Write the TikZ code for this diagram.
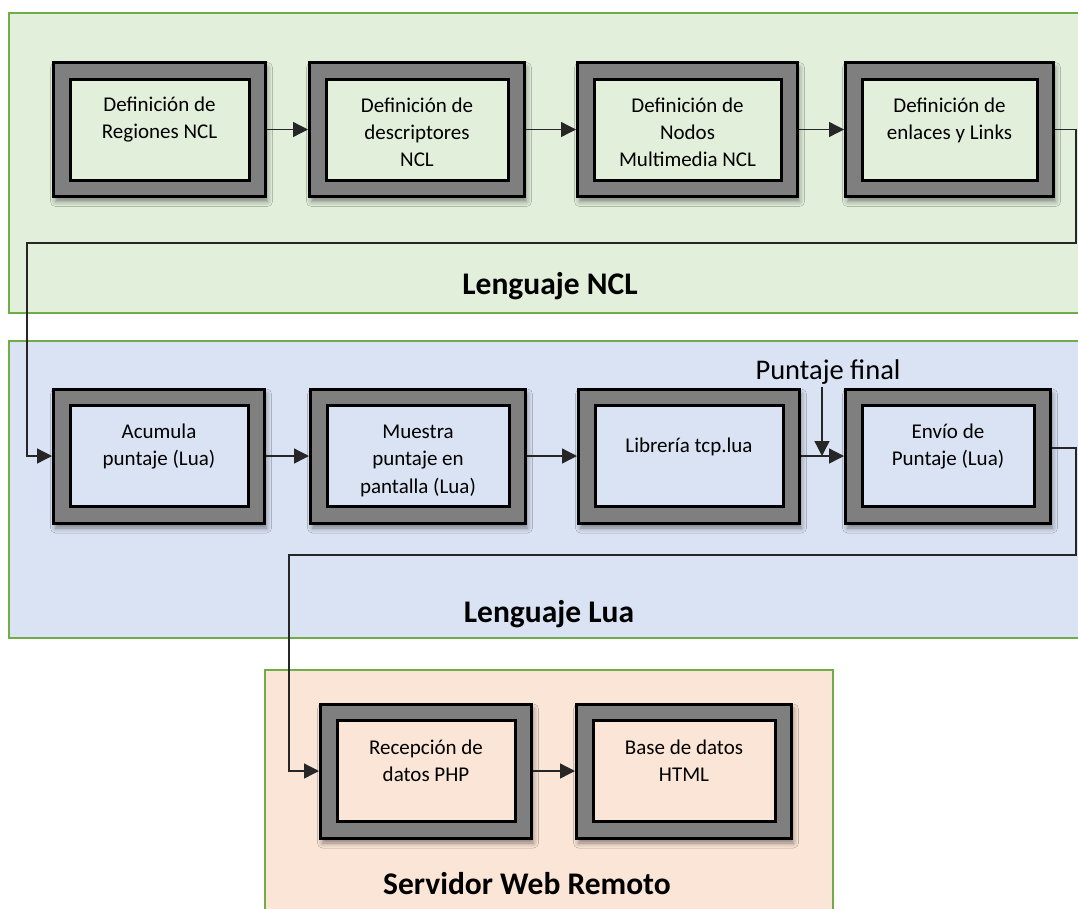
\documentclass[tikz,border=0pt]{standalone}
\usepackage{fontspec}
\setmainfont{Carlito}
\usetikzlibrary{arrows.meta,shadows.blur}
\definecolor{pG}{HTML}{E2EFDA}
\definecolor{pB}{HTML}{DAE3F3}
\definecolor{pO}{HTML}{FBE5D6}
\definecolor{pBorder}{HTML}{70AD47}
\definecolor{frameGray}{HTML}{7F7F7F}
\definecolor{connC}{HTML}{262626}
\newcommand{\ms}{\rule[-3.5pt]{0pt}{27pt}}
\newcommand{\bt}[1]{\parbox{190pt}{\centering #1}}
\tikzset{
  panel/.style={fill=#1, draw=pBorder, line width=2.5pt},
  blk/.style={rectangle, draw=black, line width=3pt, fill=frameGray,
    minimum height=134pt, inner sep=0pt,
    font=\fontsize{21}{27}\selectfont,
    blur shadow={shadow xshift=2pt, shadow yshift=-5pt, shadow blur radius=5pt, shadow opacity=45},
    path picture={\draw[line width=3pt, fill=#1]
      ([shift={(16.5pt,-16.5pt)}]path picture bounding box.north west) rectangle
      ([shift={(-16.5pt,16.5pt)}]path picture bounding box.south east);}},
  conn/.style={draw=connC, line width=1.3pt, -{Triangle[length=15pt,width=15pt]}},
  title/.style={font=\bfseries\fontsize{31.5}{38}\selectfont, inner sep=0pt},
}
\begin{document}
\begin{tikzpicture}[x=1pt,y=-1pt]
\useasboundingbox (0,0) rectangle (1078,908);
\clip (0,0) rectangle (1078,908);
\fill[white] (0,0) rectangle (1078,908);
% panels
\path[panel=pG] (9,13) rectangle (1100,313);
\path[panel=pB] (9,341) rectangle (1100,638);
\path[panel=pO] (265,670) rectangle (833,930);
% titles
\node[title] (tNCL) at (550,286) {Lenguaje NCL};
\node[title] (tLua) at (549,614) {Lenguaje Lua};
\node[title] (tWeb) at (527,884) {Servidor Web Remoto};
% row 1
\node[blk=pG, minimum width=212pt] (b11) at (159.5,129.5) {\bt{\ms Definición de\\\ms Regiones NCL\\\ms}};
\node[blk=pG, minimum width=215pt] (b12) at (417,129.5) {\bt{\ms Definición de\\\ms descriptores\\\ms NCL}};
\node[blk=pG, minimum width=220pt] (b13) at (687.5,129.5) {\bt{\ms Definición de\\\ms Nodos\\\ms Multimedia NCL}};
\node[blk=pG, minimum width=208pt] (b14) at (949.5,129.5) {\bt{\ms Definición de\\\ms enlaces y Links\\\ms}};
% row 2
\node[blk=pB, minimum width=211pt] (b21) at (159,456) {\bt{\ms Acumula\\\ms puntaje (Lua)\\\ms}};
\node[blk=pB, minimum width=215pt] (b22) at (418,456) {\bt{\ms Muestra\\\ms puntaje en\\\ms pantalla (Lua)}};
\node[blk=pB, minimum width=221pt] (b23) at (689,456) {\bt{\ms Librería tcp.lua\\\ms}};
\node[blk=pB, minimum width=205pt] (b24) at (948,456) {\bt{\ms Envío de\\\ms Puntaje (Lua)\\\ms}};
% row 3
\node[blk=pO, minimum width=211pt] (b31) at (426,771) {\bt{\ms Recepción de\\\ms datos PHP\\\ms}};
\node[blk=pO, minimum width=215pt] (b32) at (684,771) {\bt{\ms Base de datos\\\ms HTML\\\ms}};
% puntaje final
\node[font=\fontsize{28.5}{34}\selectfont, inner sep=2pt] (pf) at (828,372) {Puntaje final};
\coordinate (pft) at (822,456);
% connectors
\draw[conn] (b11) -- (b12);
\draw[conn] (b12) -- (b13);
\draw[conn] (b13) -- (b14);
\coordinate (k1) at (1076,243);
\coordinate (k2) at (27,243);
\draw[conn] (b14.east) -| (k1) -- (k2) |- (b21.west);
\draw[conn] (b21) -- (b22);
\draw[conn] (b22) -- (b23);
\draw[conn] (b23) -- (b24);
\draw[conn] (pf.south -| pft) -- (pft);
\coordinate (k3) at (1076,555);
\coordinate (k4) at (289,555);
\draw[conn] ([yshift=8pt]b24.east) -| (k3) -- (k4) |- (b31.west);
\draw[conn] (b31) -- (b32);
\end{tikzpicture}
\end{document}
